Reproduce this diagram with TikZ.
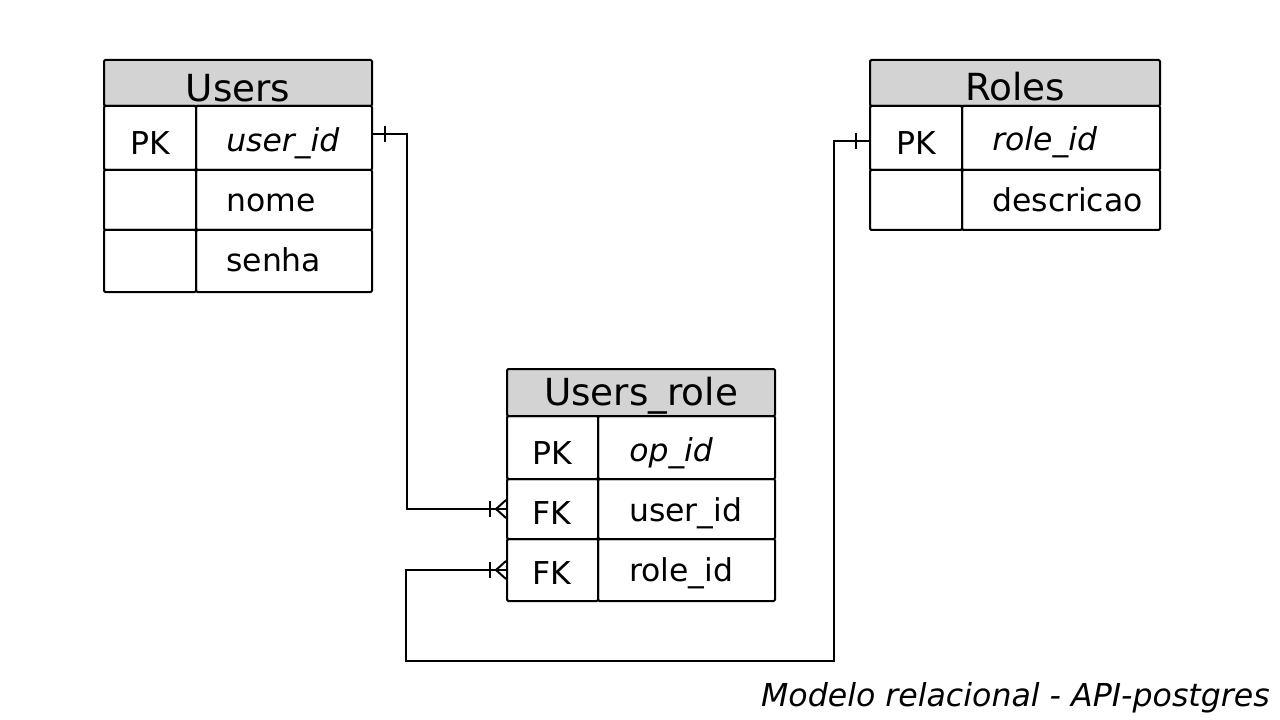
\documentclass[tikz,border=0pt]{standalone}
\usepackage{fontspec}
\setmainfont{DejaVu Sans}
\usetikzlibrary{fit}
\definecolor{hdrgray}{HTML}{D3D3D3}
\tikzset{
  box/.style={draw=black, line width=1.5pt, inner sep=0pt, rounded corners=1pt},
  hdr/.style={box, fill=hdrgray},
  hdrtxt/.style={inner sep=0pt, anchor=base, font=\fontsize{28}{32}\selectfont},
  keytxt/.style={inner sep=0pt, anchor=base, font=\fontsize{23.6}{28}\selectfont},
  fldtxt/.style={inner sep=0pt, anchor=base west, font=\fontsize{23.6}{28}\selectfont},
  pktxt/.style={fldtxt, font=\fontsize{23.6}{28}\selectfont\itshape},
  rel/.style={line width=1.5pt, draw=black},
}
\begin{document}
\begin{tikzpicture}[x=0.75pt,y=-0.75pt]
\useasboundingbox (0,0) rectangle (1280,720);

% ---------- Users ----------
\node[hdr, fit={(104,60)(372,106)}] (uh) {};
\node[box, fit={(104,106)(196,170)}] (uk1) {};
\node[box, fit={(196,106)(372,170)}] (uf1) {};
\node[box, fit={(104,170)(196,230)}] (uk2) {};
\node[box, fit={(196,170)(372,230)}] (uf2) {};
\node[box, fit={(104,230)(196,292)}] (uk3) {};
\node[box, fit={(196,230)(372,292)}] (uf3) {};
\node[hdrtxt] (uht) at (238,101.5) {Users};
\node[keytxt] (uk1t) at (150,155) {PK};
\node[pktxt] (uf1t) at (226,152) {user\_id};
\node[fldtxt] (uf2t) at (226,212) {nome};
\node[fldtxt] (uf3t) at (226,271) {senha};

% ---------- Roles ----------
\node[hdr, fit={(870,60)(1160,106)}] (rh) {};
\node[box, fit={(870,106)(962,170)}] (rk1) {};
\node[box, fit={(962,106)(1160,170)}] (rf1) {};
\node[box, fit={(870,170)(962,230)}] (rk2) {};
\node[box, fit={(962,170)(1160,230)}] (rf2) {};
\node[hdrtxt] (rht) at (1015,101) {Roles};
\node[keytxt] (rk1t) at (916,155) {PK};
\node[pktxt] (rf1t) at (992,151) {role\_id};
\node[fldtxt] (rf2t) at (992,212) {descricao};

% ---------- Users_role ----------
\node[hdr, fit={(507,369)(775,416)}] (wh) {};
\node[box, fit={(507,416)(598,479)}] (wk1) {};
\node[box, fit={(598,416)(775,479)}] (wf1) {};
\node[box, fit={(507,479)(598,539)}] (wk2) {};
\node[box, fit={(598,479)(775,539)}] (wf2) {};
\node[box, fit={(507,539)(598,601)}] (wk3) {};
\node[box, fit={(598,539)(775,601)}] (wf3) {};
\node[hdrtxt] (wht) at (641,405) {Users\_role};
\node[keytxt] (wk1t) at (552,464) {PK};
\node[pktxt] (wf1t) at (629,461) {op\_id};
\node[keytxt] (wk2t) at (552,524) {FK};
\node[fldtxt] (wf2t) at (629,521) {user\_id};
\node[keytxt] (wk3t) at (552,584) {FK};
\node[fldtxt] (wf3t) at (629,581) {role\_id};

% ---------- relations ----------
\coordinate (bot) at (406,661);
% Users.user_id  (one)  ->  Users_role.user_id (many)
\draw[rel] ([yshift=3pt]uf1.east) -- ++(34,0) |- (wk2.west);
\draw[rel] ([shift={(12,-12)}]uf1.east) -- ++(0,16);
% Roles.role_id (one) -> Users_role.role_id (many)
\draw[rel] ([yshift=-2.25pt]rk1.west) -- ++(-35,0) |- (bot) |- (wk3.west);
\draw[rel] ([shift={(-13,-5)}]rk1.west) -- ++(0,16);
% crow's feet
\draw[rel] ([shift={(-16,-8)}]wk2.west) -- ++(0,16);
\draw[rel] ([shift={(0,-9)}]wk2.west) -- ([shift={(-10,0)}]wk2.west) -- ([shift={(0,9)}]wk2.west);
\draw[rel] ([shift={(-16,-8)}]wk3.west) -- ++(0,16);
\draw[rel] ([shift={(0,-9)}]wk3.west) -- ([shift={(-10,0)}]wk3.west) -- ([shift={(0,9)}]wk3.west);

% caption
\node[inner sep=0pt, anchor=base east, font=\fontsize{23.7}{28}\selectfont\itshape] (cap) at (1270,706) {Modelo relacional - API-postgres};
\end{tikzpicture}
\end{document}
